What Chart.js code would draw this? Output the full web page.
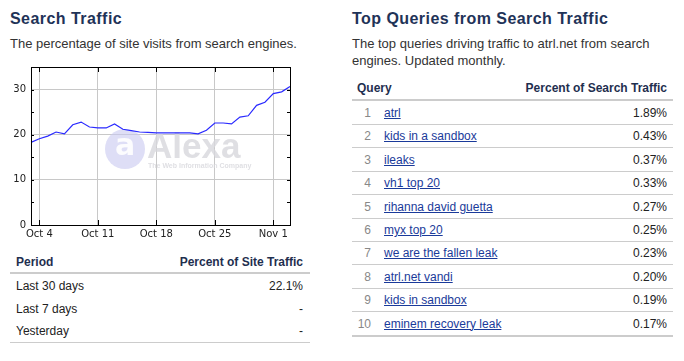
<!DOCTYPE html>
<html><head><meta charset="utf-8">
<script src="https://cdn.jsdelivr.net/npm/chart.js@4/dist/chart.umd.min.js"></script>
<style>
html,body{margin:0;padding:0;background:#fff;width:684px;height:361px;overflow:hidden;font-family:"Liberation Sans",Arial,sans-serif;}
.t{position:absolute;white-space:nowrap;}
.title{font-weight:bold;font-size:16px;color:#1f3358;letter-spacing:0.45px;line-height:20px;}
.sub{font-size:13px;color:#333;line-height:17px;}
.hd{font-weight:bold;font-size:12px;color:#1f2f4f;line-height:16px;}
.cell{font-size:12px;color:#222;line-height:16px;}
.rk{font-size:12px;color:#888;line-height:16px;text-align:right;width:30px;}
.q{font-size:12px;color:#1a3a9a;line-height:16px;text-decoration:underline;}
.ln{position:absolute;background:#ccc;}
</style></head><body>
<div class="t title" style="left:10px;top:9px;">Search Traffic</div>
<div class="t sub" style="left:10px;top:35px;">The percentage of site visits from search engines.</div>
<div style="position:absolute;left:0;top:56px;width:300px;height:190px;"><canvas id="c"></canvas></div>
<div id="lt"></div>
<div class="t title" style="left:352px;top:9px;">Top Queries from Search Traffic</div>
<div class="t sub" style="left:352px;top:35px;">The top queries driving traffic to atrl.net from search</div>
<div class="t sub" style="left:352px;top:52px;">engines. Updated monthly.</div>
<div id="rt"></div>
<script>
// Chart data
const days = ["Oct 3","Oct 4","Oct 5","Oct 6","Oct 7","Oct 8","Oct 9","Oct 10","Oct 11","Oct 12","Oct 13","Oct 14","Oct 15","Oct 16","Oct 17","Oct 18","Oct 19","Oct 20","Oct 21","Oct 22","Oct 23","Oct 24","Oct 25","Oct 26","Oct 27","Oct 28","Oct 29","Oct 30","Oct 31","Nov 1","Nov 2","Nov 3"];
const searchPct = [18.3,19.1,19.7,20.6,20.2,22.2,22.8,21.7,21.5,21.5,22.4,21.2,20.9,20.6,20.5,20.4,20.4,20.4,20.4,20.4,20.2,21.0,22.6,22.6,22.4,23.9,24.2,26.5,27.2,29.1,29.5,30.7];
const xTickLabels = ["Oct 4","Oct 11","Oct 18","Oct 25","Nov 1"];
const yLabelValues = [0,10,20,30];

// Table data
const periods = ["Last 30 days","Last 7 days","Yesterday"];
const periodPct = ["22.1%","-","-"];
const queries = ["atrl","kids in a sandbox","ileaks","vh1 top 20","rihanna david guetta","myx top 20","we are the fallen leak","atrl.net vandi","kids in sandbox","eminem recovery leak"];
const queryPct = ["1.89%","0.43%","0.37%","0.33%","0.27%","0.25%","0.23%","0.20%","0.19%","0.17%"];

function el(parent, cls, text, style){const d=document.createElement('div');d.className='t '+cls;d.textContent=text;d.style.cssText=style;parent.appendChild(d);return d;}
function line(parent, style){const d=document.createElement('div');d.className='ln';d.style.cssText=style;parent.appendChild(d);}

// Left table
const lt=document.getElementById('lt');
el(lt,'hd','Period','left:16px;top:254px;');
el(lt,'hd','Percent of Site Traffic','right:381px;top:254px;');
line(lt,'left:10px;top:272px;width:300px;height:2px;');
periods.forEach((p,i)=>{
  const y=278+i*22.5;
  el(lt,'cell',p,'left:16px;top:'+y+'px;');
  el(lt,'cell',periodPct[i],'right:381px;top:'+y+'px;');
});
line(lt,'left:10px;top:342px;width:300px;height:1px;');

// Right table
const rt=document.getElementById('rt');
el(rt,'hd','Query','left:357px;top:80px;');
el(rt,'hd','Percent of Search Traffic','right:17px;top:80px;');
line(rt,'left:352px;top:99px;width:321px;height:2px;');
queries.forEach((q,i)=>{
  const y=105+i*23.4;
  el(rt,'rk',String(i+1),'left:341px;top:'+y+'px;');
  el(rt,'q',q,'left:384px;top:'+y+'px;');
  el(rt,'cell',queryPct[i],'right:17px;top:'+y+'px;');
  if(i<9) line(rt,'left:352px;top:'+(124+i*23.4)+'px;width:321px;height:1px;');
});
line(rt,'left:352px;top:335px;width:321px;height:2px;');

const frame = {
  id:'frame',
  beforeDatasetsDraw(chart){
    const {ctx, chartArea:a} = chart;
    ctx.save();
    // watermark
    const cx=a.left+94, cy=a.top+82;
    ctx.fillStyle='rgba(200,200,240,0.6)';
    ctx.beginPath();ctx.arc(cx,cy,20,0,Math.PI*2);ctx.fill();
    ctx.fillStyle='rgba(255,255,255,0.9)';
    ctx.font='bold 30px "DejaVu Sans"';ctx.textAlign='center';ctx.textBaseline='middle';
    ctx.fillText('a',cx,cy-2);
    ctx.fillStyle='rgba(215,215,220,0.8)';
    ctx.textAlign='left';
    ctx.font='bold 35px "Liberation Sans"';
    ctx.fillText('Alexa',a.left+116,cy-1);
    ctx.font='bold 7px "Liberation Sans"';
    ctx.fillText('The Web Information Company',a.left+117,cy+17);
    ctx.restore();
  },
  afterDraw(chart){
    const {ctx, chartArea:a, scales} = chart;
    ctx.save();
    ctx.strokeStyle='#000';ctx.lineWidth=1;
    ctx.strokeRect(Math.round(a.left)+0.5,Math.round(a.top)+0.5,Math.round(a.right-a.left),Math.round(a.bottom-a.top));
    const y=scales.y;
    y.ticks.forEach(t=>{
      const py=Math.round(y.getPixelForValue(t.value))+0.5;
      ctx.beginPath();ctx.moveTo(a.left,py);ctx.lineTo(a.left+3,py);ctx.moveTo(a.right,py);ctx.lineTo(a.right-3,py);ctx.stroke();
    });
    const x=scales.x;
    days.forEach((d,i)=>{
      if(xTickLabels.includes(d)){
        const px=Math.round(x.getPixelForValue(i))+0.5;
        ctx.beginPath();ctx.moveTo(px,a.bottom);ctx.lineTo(px,a.bottom-5);ctx.moveTo(px,a.top);ctx.lineTo(px,a.top+5);ctx.stroke();
      }
    });
    ctx.restore();
  }
};

new Chart(document.getElementById('c'),{
  type:'line',
  data:{labels:days,datasets:[{data:searchPct,borderColor:'#2a2aff',borderWidth:1.2,pointRadius:0,tension:0,fill:false}]},
  options:{
    responsive:true,maintainAspectRatio:false,animation:false,
    layout:{padding:{top:8,right:10,left:0,bottom:0}},
    plugins:{legend:{display:false},tooltip:{enabled:false}},
    scales:{
      x:{type:'category',offset:false,
        border:{display:false},
        grid:{drawTicks:false,color:(c)=>{const l=days[c.index];return (xTickLabels.includes(l)&&c.index>0&&c.index<days.length-1)?'#c8c8c8':'rgba(0,0,0,0)';},lineWidth:1},
        ticks:{autoSkip:false,maxRotation:0,padding:3,color:'#222',font:{family:'"DejaVu Sans"',size:10},
          callback:(v,i)=>xTickLabels.includes(days[i])?days[i]:''},
        afterFit:(s)=>{s.height=21;}
      },
      y:{min:0,max:35,
        border:{display:false},
        grid:{drawTicks:false,color:(c)=>{const v=c.tick&&c.tick.value;return (yLabelValues.includes(v)&&v>0)?'#c8c8c8':'rgba(0,0,0,0)';}},
        ticks:{stepSize:2.5,padding:5,color:'#222',font:{family:'"DejaVu Sans"',size:10},
          callback:(v)=>yLabelValues.includes(v)?String(v):''},
        afterFit:(s)=>{s.width=31;}
      }
    }
  },
  plugins:[frame]
});
</script>
</body></html>
